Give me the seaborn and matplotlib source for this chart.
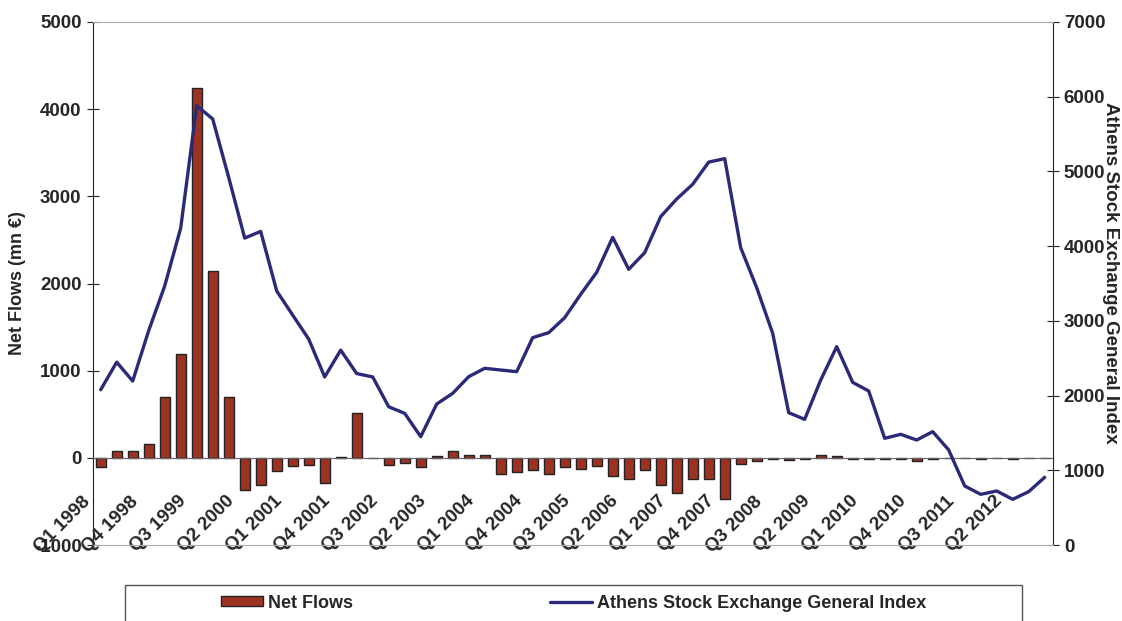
import numpy as np
import pandas as pd
import seaborn as sns
import matplotlib.pyplot as plt
from matplotlib.patches import Rectangle
from matplotlib.transforms import ScaledTranslation

quarters = [f"Q{q} {y}" for y in range(1998, 2013) for q in range(1, 5)]

net_flows = [
    -100, 80, 80, 160, 700, 1195, 4240, 2146, 702, -372,
    -317, -155, -98, -80, -292, 15, 509, 0, -82, -60,
    -103, 20, 76, 38, 38, -183, -164, -145, -183, -103,
    -126, -88, -203, -241, -141, -317, -401, -241, -241, -468,
    -76, -31, -18, -30, -18, 38, 19, -18, -18, -18,
    -18, -38, -18, 0, 0, -18, 0, -18, 0, 0,
]

ase_index = [
    2078, 2447, 2194, 2870, 3467, 4242, 5880, 5702, 4920, 4108,
    4197, 3400, 3077, 2756, 2249, 2608, 2295, 2249, 1850, 1762,
    1450, 1887, 2030, 2253, 2365, 2342, 2320, 2775, 2842, 3043,
    3355, 3650, 4118, 3690, 3913, 4395, 4631, 4828, 5125, 5171,
    3980, 3444, 2833, 1771, 1682, 2208, 2655, 2177, 2061, 1428,
    1481, 1405, 1517, 1272, 790, 678, 723, 611, 714, 906,
]

sns.set_style("white")
plt.rcParams["font.family"] = ["Liberation Sans", "DejaVu Sans"]
plt.rcParams["font.weight"] = "bold"
plt.rcParams["axes.unicode_minus"] = False

df = pd.DataFrame({"quarter": quarters, "flows": net_flows, "index": ase_index})
df["pos"] = np.arange(len(df))

fig = plt.figure(figsize=(11.22, 6.21), dpi=100)
ax = fig.add_axes([92.7 / 1122, 1 - 545 / 621, 960 / 1122, 523 / 621])

bar_col = "#9c3322"
line_col = "#2b2a78"

sns.barplot(data=df, x="quarter", y="flows", order=quarters, ax=ax,
            color=bar_col, saturation=1, edgecolor="#222222", linewidth=1,
            width=0.6)
ax.set_ylim(-1000, 5000)
ax.set_yticks(range(-1000, 5001, 1000))
ax.set_xlim(-0.5, len(quarters) - 0.5)

ax2 = ax.twinx()
sns.lineplot(data=df, x="pos", y="index", ax=ax2, color=line_col,
             linewidth=2.4, legend=False)
ax2.set_ylim(0, 7000)
ax2.set_yticks(range(0, 7001, 1000))
ax2.set_xlim(-0.5, len(quarters) - 0.5)

# x axis sits at zero, Excel style
ax.spines["bottom"].set_position(("data", 0))
ax.spines["bottom"].set_color("#666666")
ax.spines["top"].set_visible(False)
ax.spines["right"].set_visible(False)
ax.spines["left"].set_color("#222222")
ax2.spines["left"].set_visible(False)
ax2.spines["right"].set_color("#222222")
ax2.spines["top"].set_color("#aaaaaa")
ax2.spines["bottom"].set_color("#aaaaaa")

ax.set_xticks(np.arange(-0.5, len(quarters), 1), minor=True)
ax.tick_params(axis="x", which="major", length=0, pad=0)
ax.tick_params(axis="x", which="minor", direction="inout", length=12,
               color="#333333", width=0.8)
ax.tick_params(axis="y", direction="inout", length=9, width=0.8,
               labelsize=13.5, color="#222222")
ax2.tick_params(axis="y", direction="inout", length=9, width=0.8,
                labelsize=13.5, color="#222222")
for lab in ax.get_yticklabels() + ax2.get_yticklabels():
    lab.set_fontweight("bold")

ax.set_xticks(range(0, len(quarters), 3))
ax.set_xticklabels(quarters[::3], rotation=45, ha="right", va="center",
                   rotation_mode="anchor", fontsize=13.5, fontweight="bold")
# Excel drops the slanted labels well below the zero line
shift = ScaledTranslation(-13 / 100, -41 / 100, fig.dpi_scale_trans)
for lab in ax.get_xticklabels():
    lab.set_transform(lab.get_transform() + shift)

ax.set_xlabel("")
ax.set_ylabel("Net Flows (mn €)", fontsize=13, fontweight="bold")
ax.yaxis.set_label_coords(-0.069, 0.5)
ax2.set_xlabel("")
ax2.set_ylabel("Athens Stock Exchange General Index", fontsize=13.5,
               fontweight="bold", rotation=270, va="center")
ax2.yaxis.set_label_coords(1.0605, 0.52)

# legend box, cut off by the lower edge like the original
fig.add_artist(Rectangle((125 / 1122, -0.05), (1022 - 125) / 1122,
                         0.05 + 1 - 585 / 621, transform=fig.transFigure,
                         fill=False, edgecolor="#555555", linewidth=1))
handles = [ax.containers[0].patches[0], ax2.lines[0]]
fig.legend(handles, ["Net Flows", "Athens Stock Exchange General Index"],
           loc="center left", bbox_to_anchor=(205 / 1122, 1 - 603 / 621),
           ncol=2, frameon=False, handlelength=2.3,
           handleheight=0.5, handletextpad=0.3, columnspacing=10.9,
           prop={"weight": "bold", "size": 13})

fig.savefig("out.png", dpi=100)
